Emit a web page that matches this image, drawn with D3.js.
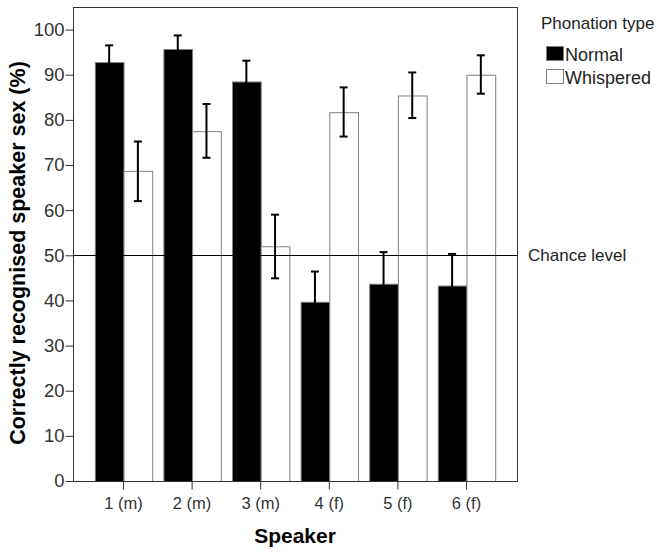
<!DOCTYPE html>
<html>
<head>
<meta charset="utf-8">
<script src="https://cdn.jsdelivr.net/npm/d3@7"></script>
<style>
  body { margin: 0; background: #fff; }
  text { font-family: "Liberation Sans", Arial, sans-serif; }
</style>
</head>
<body>
<div id="chart"></div>
<script>
// values
const speakers = ["1 (m)", "2 (m)", "3 (m)", "4 (f)", "5 (f)", "6 (f)"];
const types = ["Normal", "Whispered"];
const normal = [92.8, 95.7, 88.5, 39.7, 43.7, 43.3];
const normalHi = [96.5, 98.7, 93.1, 46.4, 50.7, 50.3];
const normalLo = [89.1, 92.7, 83.9, 33.0, 36.7, 36.3];
const whispered = [68.7, 77.5, 52.0, 81.7, 85.4, 90.0];
const whisperedHi = [75.2, 83.5, 59.0, 87.2, 90.5, 94.3];
const whisperedLo = [62.0, 71.6, 44.9, 76.3, 80.4, 85.8];
const yTicks = [0, 10, 20, 30, 40, 50, 60, 70, 80, 90, 100];
const chance = 50;

const width = 660, height = 552;
const plot = { left: 73, right: 517, top: 7, bottom: 481 };

const svg = d3.select("#chart")
    .append("svg")
    .attr("width", width)
    .attr("height", height);

const x0 = d3.scaleBand()
    .domain(speakers)
    .range([plot.left, plot.right])
    .paddingInner(0.163)
    .paddingOuter(0.318);

const x1 = d3.scaleBand()
    .domain(types)
    .range([0, x0.bandwidth()]);

const y = d3.scaleLinear()
    .domain([0, 105])
    .range([plot.bottom, plot.top]);

const rows = speakers.map((s, i) => ({
    speaker: s,
    bars: [
        { type: "Normal", value: normal[i], lo: normalLo[i], hi: normalHi[i] },
        { type: "Whispered", value: whispered[i], lo: whisperedLo[i], hi: whisperedHi[i] }
    ]
}));

// bars
const groups = svg.selectAll("g.group")
    .data(rows)
    .enter().append("g")
    .attr("class", "group")
    .attr("transform", d => "translate(" + x0(d.speaker) + ",0)");

groups.selectAll("rect")
    .data(d => d.bars)
    .enter().append("rect")
    .attr("x", d => x1(d.type) + 0.5)
    .attr("y", d => y(d.value) + 0.5)
    .attr("width", x1.bandwidth())
    .attr("height", d => y(0) - y(d.value))
    .style("fill", d => d.type == "Normal" ? "#000" : "#fff")
    .style("stroke", "#808080")
    .style("stroke-width", "1px");

// chance level line
svg.append("line")
    .attr("x1", plot.left)
    .attr("x2", plot.right)
    .attr("y1", Math.round(y(chance)) + 0.5)
    .attr("y2", Math.round(y(chance)) + 0.5)
    .style("stroke", "#000")
    .style("stroke-width", "1px");

// error bars
const capW = 4;
const err = groups.selectAll("g.err")
    .data(d => d.bars)
    .enter().append("g")
    .attr("class", "err")
    .style("stroke", "#000")
    .style("stroke-width", "2px");

err.append("line")
    .attr("x1", d => x1(d.type) + x1.bandwidth() / 2)
    .attr("x2", d => x1(d.type) + x1.bandwidth() / 2)
    .attr("y1", d => y(d.lo))
    .attr("y2", d => y(d.hi));

err.append("line")
    .attr("x1", d => x1(d.type) + x1.bandwidth() / 2 - capW)
    .attr("x2", d => x1(d.type) + x1.bandwidth() / 2 + capW)
    .attr("y1", d => y(d.hi))
    .attr("y2", d => y(d.hi));

err.append("line")
    .attr("x1", d => x1(d.type) + x1.bandwidth() / 2 - capW)
    .attr("x2", d => x1(d.type) + x1.bandwidth() / 2 + capW)
    .attr("y1", d => y(d.lo))
    .attr("y2", d => y(d.lo));

// frame
svg.append("rect")
    .attr("x", plot.left + 0.5)
    .attr("y", plot.top + 0.5)
    .attr("width", plot.right - plot.left)
    .attr("height", plot.bottom - plot.top)
    .style("fill", "none")
    .style("stroke", "#333")
    .style("stroke-width", "1px");

// axes
const yAxis = svg.append("g")
    .attr("transform", "translate(" + (plot.left + 0.5) + ",0)")
    .call(d3.axisLeft(y).tickValues(yTicks).tickSize(8).tickPadding(1));
yAxis.select(".domain").remove();
yAxis.selectAll("line").style("stroke", "#333");
yAxis.selectAll("text")
    .style("font-family", "Liberation Sans, Arial, sans-serif")
    .style("font-size", "18.5px")
    .style("fill", "#333");

const xAxis = svg.append("g")
    .attr("transform", "translate(0," + (plot.bottom + 0.5) + ")")
    .call(d3.axisBottom(x0).tickSize(8).tickPadding(8));
xAxis.select(".domain").remove();
xAxis.selectAll("line").style("stroke", "#333");
xAxis.selectAll("text")
    .style("font-family", "Liberation Sans, Arial, sans-serif")
    .style("font-size", "16.5px")
    .style("fill", "#333");

// axis titles
svg.append("text")
    .attr("text-anchor", "middle")
    .attr("transform", "translate(25," + 253 + ")rotate(-90)")
    .style("font-size", "21.5px")
    .style("font-weight", "bold")
    .text("Correctly recognised speaker sex (%)");

svg.append("text")
    .attr("text-anchor", "middle")
    .attr("x", (plot.left + plot.right) / 2)
    .attr("y", 543)
    .style("font-size", "21px")
    .style("font-weight", "bold")
    .text("Speaker");

svg.append("text")
    .attr("x", 528)
    .attr("y", 261)
    .style("font-size", "17px")
    .style("fill", "#222")
    .text("Chance level");

// legend
const legend = svg.append("g").attr("transform", "translate(541,0)");
legend.append("text")
    .attr("x", 0)
    .attr("y", 29)
    .style("font-size", "17px")
    .style("fill", "#222")
    .text("Phonation type");

const item = legend.selectAll("g.item")
    .data(types)
    .enter().append("g")
    .attr("class", "item")
    .attr("transform", (d, i) => "translate(5," + (46 + i * 23) + ")");

item.append("rect")
    .attr("x", 0.5)
    .attr("y", 0.5)
    .attr("width", 17)
    .attr("height", 14)
    .style("fill", d => d == "Normal" ? "#000" : "#fff")
    .style("stroke", "#808080");

item.append("text")
    .attr("x", 19)
    .attr("y", 15)
    .style("font-size", "18px")
    .style("fill", "#222")
    .text(d => d);
</script>
</body>
</html>
